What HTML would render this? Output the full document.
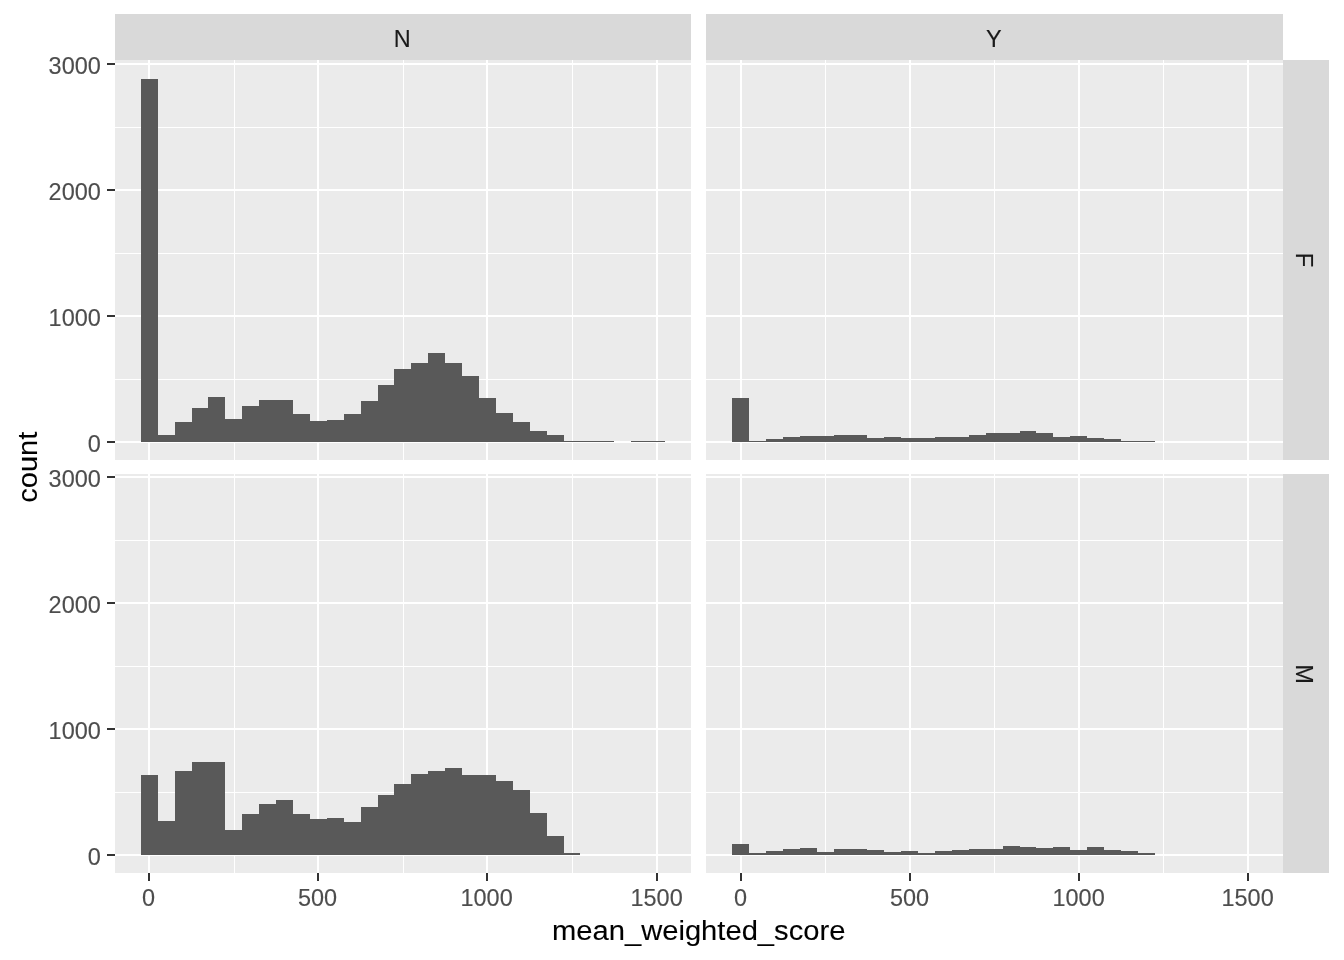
<!DOCTYPE html>
<html lang="en">
<head>
<meta charset="utf-8">
<title>mean_weighted_score histogram</title>
<style>
html, body { margin: 0; padding: 0; background: #FFFFFF; }
body { width: 1344px; height: 960px; overflow: hidden; font-family: "Liberation Sans", Arial, sans-serif; }
svg { display: block; }
</style>
</head>
<body>
<svg width="1344" height="960" viewBox="0 0 1344 960">
<rect x="0" y="0" width="1344" height="960" fill="#FFFFFF"/>
<g shape-rendering="crispEdges">
<rect x="115" y="14" width="576" height="46" fill="#D9D9D9"/>
<rect x="706" y="14" width="577" height="46" fill="#D9D9D9"/>
<rect x="1283" y="60" width="46" height="400" fill="#D9D9D9"/>
<rect x="1283" y="474" width="46" height="399" fill="#D9D9D9"/>
<rect x="115" y="60" width="576" height="400" fill="#EBEBEB"/>
<g fill="#FFFFFF"><rect x="115" y="127" width="576" height="1"/><rect x="115" y="253" width="576" height="1"/><rect x="115" y="379" width="576" height="1"/><rect x="234" y="60" width="1" height="400"/><rect x="403" y="60" width="1" height="400"/><rect x="572" y="60" width="1" height="400"/><rect x="115" y="63" width="576" height="2"/><rect x="115" y="189" width="576" height="2"/><rect x="115" y="315" width="576" height="2"/><rect x="115" y="441" width="576" height="2"/><rect x="148" y="60" width="2" height="400"/><rect x="317" y="60" width="2" height="400"/><rect x="486" y="60" width="2" height="400"/><rect x="656" y="60" width="2" height="400"/></g>
<g fill="#595959"><rect x="141" y="79" width="17" height="363"/><rect x="158" y="435" width="17" height="7"/><rect x="175" y="422" width="17" height="20"/><rect x="192" y="408" width="16" height="34"/><rect x="208" y="397" width="17" height="45"/><rect x="225" y="419" width="17" height="23"/><rect x="242" y="406" width="17" height="36"/><rect x="259" y="400" width="17" height="42"/><rect x="276" y="400" width="17" height="42"/><rect x="293" y="414" width="17" height="28"/><rect x="310" y="421" width="17" height="21"/><rect x="327" y="420" width="17" height="22"/><rect x="344" y="414" width="17" height="28"/><rect x="361" y="401" width="17" height="41"/><rect x="378" y="385" width="16" height="57"/><rect x="394" y="369" width="17" height="73"/><rect x="411" y="363" width="17" height="79"/><rect x="428" y="353" width="17" height="89"/><rect x="445" y="363" width="17" height="79"/><rect x="462" y="376" width="17" height="66"/><rect x="479" y="398" width="17" height="44"/><rect x="496" y="413" width="17" height="29"/><rect x="513" y="422" width="17" height="20"/><rect x="530" y="431" width="17" height="11"/><rect x="547" y="435" width="17" height="7"/><rect x="564" y="441" width="16" height="1"/><rect x="580" y="441" width="17" height="1"/><rect x="597" y="441" width="17" height="1"/><rect x="631" y="441" width="17" height="1"/><rect x="648" y="441" width="17" height="1"/></g>
<rect x="115" y="474" width="576" height="399" fill="#EBEBEB"/>
<g fill="#FFFFFF"><rect x="115" y="540" width="576" height="1"/><rect x="115" y="666" width="576" height="1"/><rect x="115" y="792" width="576" height="1"/><rect x="234" y="474" width="1" height="399"/><rect x="403" y="474" width="1" height="399"/><rect x="572" y="474" width="1" height="399"/><rect x="115" y="476" width="576" height="2"/><rect x="115" y="602" width="576" height="2"/><rect x="115" y="728" width="576" height="2"/><rect x="115" y="854" width="576" height="2"/><rect x="148" y="474" width="2" height="399"/><rect x="317" y="474" width="2" height="399"/><rect x="486" y="474" width="2" height="399"/><rect x="656" y="474" width="2" height="399"/></g>
<g fill="#595959"><rect x="141" y="775" width="17" height="80"/><rect x="158" y="821" width="17" height="34"/><rect x="175" y="771" width="17" height="84"/><rect x="192" y="762" width="16" height="93"/><rect x="208" y="762" width="17" height="93"/><rect x="225" y="830" width="17" height="25"/><rect x="242" y="814" width="17" height="41"/><rect x="259" y="804" width="17" height="51"/><rect x="276" y="800" width="17" height="55"/><rect x="293" y="814" width="17" height="41"/><rect x="310" y="819" width="17" height="36"/><rect x="327" y="818" width="17" height="37"/><rect x="344" y="822" width="17" height="33"/><rect x="361" y="807" width="17" height="48"/><rect x="378" y="795" width="16" height="60"/><rect x="394" y="784" width="17" height="71"/><rect x="411" y="774" width="17" height="81"/><rect x="428" y="771" width="17" height="84"/><rect x="445" y="768" width="17" height="87"/><rect x="462" y="775" width="17" height="80"/><rect x="479" y="775" width="17" height="80"/><rect x="496" y="781" width="17" height="74"/><rect x="513" y="790" width="17" height="65"/><rect x="530" y="813" width="17" height="42"/><rect x="547" y="836" width="17" height="19"/><rect x="564" y="853" width="16" height="2"/></g>
<rect x="706" y="60" width="577" height="400" fill="#EBEBEB"/>
<g fill="#FFFFFF"><rect x="706" y="127" width="577" height="1"/><rect x="706" y="253" width="577" height="1"/><rect x="706" y="379" width="577" height="1"/><rect x="825" y="60" width="1" height="400"/><rect x="994" y="60" width="1" height="400"/><rect x="1163" y="60" width="1" height="400"/><rect x="706" y="63" width="577" height="2"/><rect x="706" y="189" width="577" height="2"/><rect x="706" y="315" width="577" height="2"/><rect x="706" y="441" width="577" height="2"/><rect x="740" y="60" width="2" height="400"/><rect x="909" y="60" width="2" height="400"/><rect x="1078" y="60" width="2" height="400"/><rect x="1247" y="60" width="2" height="400"/></g>
<g fill="#595959"><rect x="732" y="398" width="17" height="44"/><rect x="749" y="441" width="17" height="1"/><rect x="766" y="439" width="17" height="3"/><rect x="783" y="437" width="17" height="5"/><rect x="800" y="436" width="17" height="6"/><rect x="817" y="436" width="17" height="6"/><rect x="834" y="435" width="16" height="7"/><rect x="850" y="435" width="17" height="7"/><rect x="867" y="438" width="17" height="4"/><rect x="884" y="437" width="17" height="5"/><rect x="901" y="438" width="17" height="4"/><rect x="918" y="438" width="17" height="4"/><rect x="935" y="437" width="17" height="5"/><rect x="952" y="437" width="17" height="5"/><rect x="969" y="435" width="17" height="7"/><rect x="986" y="433" width="17" height="9"/><rect x="1003" y="433" width="17" height="9"/><rect x="1020" y="431" width="16" height="11"/><rect x="1036" y="433" width="17" height="9"/><rect x="1053" y="437" width="17" height="5"/><rect x="1070" y="436" width="17" height="6"/><rect x="1087" y="438" width="17" height="4"/><rect x="1104" y="439" width="17" height="3"/><rect x="1121" y="441" width="17" height="1"/><rect x="1138" y="441" width="17" height="1"/></g>
<rect x="706" y="474" width="577" height="399" fill="#EBEBEB"/>
<g fill="#FFFFFF"><rect x="706" y="540" width="577" height="1"/><rect x="706" y="666" width="577" height="1"/><rect x="706" y="792" width="577" height="1"/><rect x="825" y="474" width="1" height="399"/><rect x="994" y="474" width="1" height="399"/><rect x="1163" y="474" width="1" height="399"/><rect x="706" y="476" width="577" height="2"/><rect x="706" y="602" width="577" height="2"/><rect x="706" y="728" width="577" height="2"/><rect x="706" y="854" width="577" height="2"/><rect x="740" y="474" width="2" height="399"/><rect x="909" y="474" width="2" height="399"/><rect x="1078" y="474" width="2" height="399"/><rect x="1247" y="474" width="2" height="399"/></g>
<g fill="#595959"><rect x="732" y="844" width="17" height="11"/><rect x="749" y="853" width="17" height="2"/><rect x="766" y="851" width="17" height="4"/><rect x="783" y="849" width="17" height="6"/><rect x="800" y="848" width="17" height="7"/><rect x="817" y="852" width="17" height="3"/><rect x="834" y="849" width="16" height="6"/><rect x="850" y="849" width="17" height="6"/><rect x="867" y="850" width="17" height="5"/><rect x="884" y="852" width="17" height="3"/><rect x="901" y="851" width="17" height="4"/><rect x="918" y="853" width="17" height="2"/><rect x="935" y="851" width="17" height="4"/><rect x="952" y="850" width="17" height="5"/><rect x="969" y="849" width="17" height="6"/><rect x="986" y="849" width="17" height="6"/><rect x="1003" y="846" width="17" height="9"/><rect x="1020" y="847" width="16" height="8"/><rect x="1036" y="848" width="17" height="7"/><rect x="1053" y="847" width="17" height="8"/><rect x="1070" y="850" width="17" height="5"/><rect x="1087" y="847" width="17" height="8"/><rect x="1104" y="850" width="17" height="5"/><rect x="1121" y="851" width="17" height="4"/><rect x="1138" y="853" width="17" height="2"/></g>
<g fill="#333333"><rect x="107" y="63" width="8" height="2"/><rect x="107" y="189" width="8" height="2"/><rect x="107" y="315" width="8" height="2"/><rect x="107" y="441" width="8" height="2"/><rect x="107" y="476" width="8" height="2"/><rect x="107" y="602" width="8" height="2"/><rect x="107" y="728" width="8" height="2"/><rect x="107" y="854" width="8" height="2"/><rect x="148" y="873" width="2" height="8"/><rect x="317" y="873" width="2" height="8"/><rect x="486" y="873" width="2" height="8"/><rect x="656" y="873" width="2" height="8"/><rect x="740" y="873" width="2" height="8"/><rect x="909" y="873" width="2" height="8"/><rect x="1078" y="873" width="2" height="8"/><rect x="1247" y="873" width="2" height="8"/></g>
</g>
<g font-family="'Liberation Sans', Arial, sans-serif" font-size="23.47px">
<g fill="#4D4D4D" stroke="#4D4D4D" stroke-width="0.12" text-anchor="end">
<text x="100.8" y="73.5">3000</text>
<text x="100.8" y="199.5">2000</text>
<text x="100.8" y="325.5">1000</text>
<text x="100.8" y="451.5">0</text>
<text x="100.8" y="486.5">3000</text>
<text x="100.8" y="612.5">2000</text>
<text x="100.8" y="738.5">1000</text>
<text x="100.8" y="864.5">0</text>
</g>
<g fill="#4D4D4D" stroke="#4D4D4D" stroke-width="0.12" text-anchor="middle">
<text x="148.6" y="906">0</text>
<text x="317.6" y="906">500</text>
<text x="486.6" y="906">1000</text>
<text x="656.6" y="906">1500</text>
<text x="740.6" y="906">0</text>
<text x="909.6" y="906">500</text>
<text x="1078.6" y="906">1000</text>
<text x="1247.6" y="906">1500</text>
</g>
<g fill="#1A1A1A" stroke="#1A1A1A" stroke-width="0.12" text-anchor="middle">
<text x="402.3" y="47">N</text>
<text x="993.8" y="47">Y</text>
<text transform="translate(1295.5 260) rotate(90)">F</text>
<text transform="translate(1295.5 674.1) rotate(90)">M</text>
</g>
<g fill="#000000" stroke="#000000" stroke-width="0.1" text-anchor="middle" font-size="28.4px">
<text x="698.7" y="939.5" textLength="293.3" lengthAdjust="spacingAndGlyphs">mean_weighted_score</text>
<text transform="translate(37.3 467.2) rotate(-90)" textLength="71.0" lengthAdjust="spacingAndGlyphs">count</text>
</g>
</g>
</svg>
</body>
</html>
